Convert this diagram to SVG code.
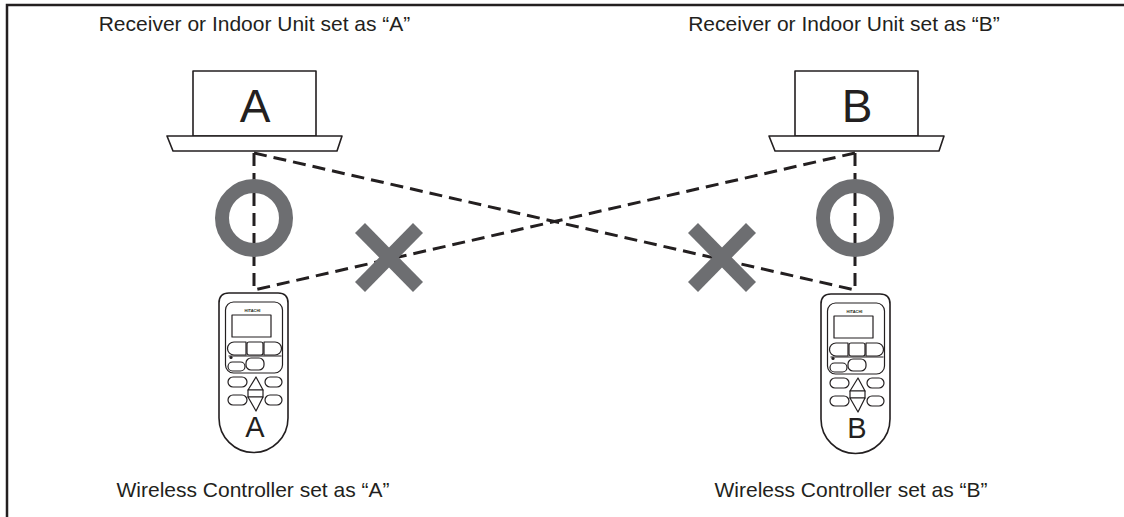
<svg xmlns="http://www.w3.org/2000/svg" width="1124" height="517" viewBox="0 0 1124 517">
  <style>
    .frame { fill: none; stroke: #231f20; stroke-width: 2.5; }
    .outline { fill: #ffffff; stroke: #231f20; stroke-width: 1.6; stroke-linejoin: round; }
    .thin { fill: #ffffff; stroke: #231f20; stroke-width: 1.2; stroke-linejoin: round; }
    .sight { fill: none; stroke: #231f20; stroke-width: 3; stroke-dasharray: 13 7; }
    .ok { fill: none; stroke: #6d6e71; stroke-width: 14; }
    .ng { fill: none; stroke: #6d6e71; stroke-width: 14; stroke-linecap: butt; }
    .label { font-family: "Liberation Sans", Arial, sans-serif; font-size: 21px; fill: #231f20; text-anchor: middle; }
    .unitLetter { font-family: "Liberation Sans", Arial, sans-serif; font-size: 46px; fill: #231f20; text-anchor: middle; }
    .remoteLetter { font-family: "Liberation Sans", Arial, sans-serif; font-size: 29px; fill: #231f20; text-anchor: middle; }
    .brand { font-family: "Liberation Sans", Arial, sans-serif; font-size: 4px; font-weight: bold; fill: #231f20; text-anchor: middle; }
  </style>
  <defs>
    <!-- indoor unit / receiver: cabinet on a tapered ceiling panel -->
    <g id="unit">
      <rect class="outline" x="-62" y="-65" width="123" height="65"/>
      <path class="outline" d="M-88,0 L87,0 L82,15 L-82,15 Z"/>
    </g>
    <!-- hand-held wireless remote, origin at top centre -->
    <g id="remote">
      <path class="outline" d="M-34.5,10 Q-34.5,0 -24.5,0 L24.5,0 Q34.5,0 34.5,10 L34.5,125 A34.5,34.5 0 0 1 -34.5,125 Z"/>
      <rect class="thin" x="-28" y="9" width="57" height="71" rx="8"/>
      <text class="brand" x="-1" y="19">HITACHI</text>
      <rect class="thin" x="-21.5" y="22" width="39" height="22"/>
      <!-- top key row -->
      <path class="thin" d="M-19.5,49 L-7.5,49 L-7.5,62 L-19.5,62 A6.5,6.5 0 0 1 -19.5,49 Z"/>
      <rect class="thin" x="-6.5" y="49" width="16" height="13" rx="2"/>
      <path class="thin" d="M10.5,49 L21.5,49 A6.5,6.5 0 0 1 21.5,62 L10.5,62 Z"/>
      <line x1="-25" y1="63" x2="28" y2="63" stroke="#231f20" stroke-width="1.2"/>
      <circle cx="-22.5" cy="64.5" r="1.6" fill="#231f20"/>
      <!-- second key row -->
      <rect class="thin" x="-25.5" y="69" width="17" height="9" rx="4.5"/>
      <rect class="thin" x="-7.5" y="65" width="18" height="12" rx="5"/>
      <!-- side keys and arrow pad -->
      <rect class="thin" x="-25.5" y="84" width="19" height="10" rx="5"/>
      <rect class="thin" x="11.5" y="84" width="17" height="10" rx="5"/>
      <rect class="thin" x="-25.5" y="102" width="19" height="10" rx="5"/>
      <rect class="thin" x="11.5" y="102" width="17" height="10" rx="5"/>
      <path class="thin" d="M2.5,84 L9.5,97 L-5.5,97 Z"/>
      <rect class="thin" x="-5.5" y="97" width="15" height="7"/>
      <path class="thin" d="M-5.5,104 L9.5,104 L2.5,118 Z"/>
    </g>
  </defs>

  <!-- page frame -->
  <path class="frame" d="M7,517 L7,5 L1124,5"/>

  <!-- lines of sight -->
  <g id="connectors">
    <line class="sight" x1="254" y1="153" x2="254" y2="292"/>
    <line class="sight" x1="855" y1="153" x2="855" y2="292"/>
    <line class="sight" x1="254" y1="153" x2="855" y2="290"/>
    <line class="sight" x1="855" y1="153" x2="254" y2="290"/>
  </g>

  <!-- valid / invalid marks -->
  <g id="mark-ok-a"><circle class="ok" cx="254" cy="218" r="32"/></g>
  <g id="mark-ok-b"><circle class="ok" cx="855" cy="218" r="32"/></g>
  <g id="mark-ng-a" class="ng">
    <line x1="360" y1="228" x2="418" y2="287" class="ng"/>
    <line x1="418" y1="228" x2="360" y2="287" class="ng"/>
  </g>
  <g id="mark-ng-b" class="ng">
    <line x1="693" y1="228" x2="751" y2="287" class="ng"/>
    <line x1="751" y1="228" x2="693" y2="287" class="ng"/>
  </g>

  <!-- unit A -->
  <g id="unit-a">
    <use href="#unit" x="255" y="136"/>
    <text class="unitLetter" x="255" y="122">A</text>
    <text class="label" x="254.5" y="31">Receiver or Indoor Unit set as “A”</text>
  </g>

  <!-- unit B -->
  <g id="unit-b">
    <use href="#unit" x="857" y="136"/>
    <text class="unitLetter" x="857" y="122">B</text>
    <text class="label" x="844" y="31">Receiver or Indoor Unit set as “B”</text>
  </g>

  <!-- controller A -->
  <g id="controller-a">
    <use href="#remote" x="253.5" y="293"/>
    <text class="remoteLetter" x="255" y="437">A</text>
    <text class="label" x="253" y="497">Wireless Controller set as “A”</text>
  </g>

  <!-- controller B -->
  <g id="controller-b">
    <use href="#remote" x="855.5" y="294"/>
    <text class="remoteLetter" x="857" y="438">B</text>
    <text class="label" x="851" y="497">Wireless Controller set as “B”</text>
  </g>
</svg>
